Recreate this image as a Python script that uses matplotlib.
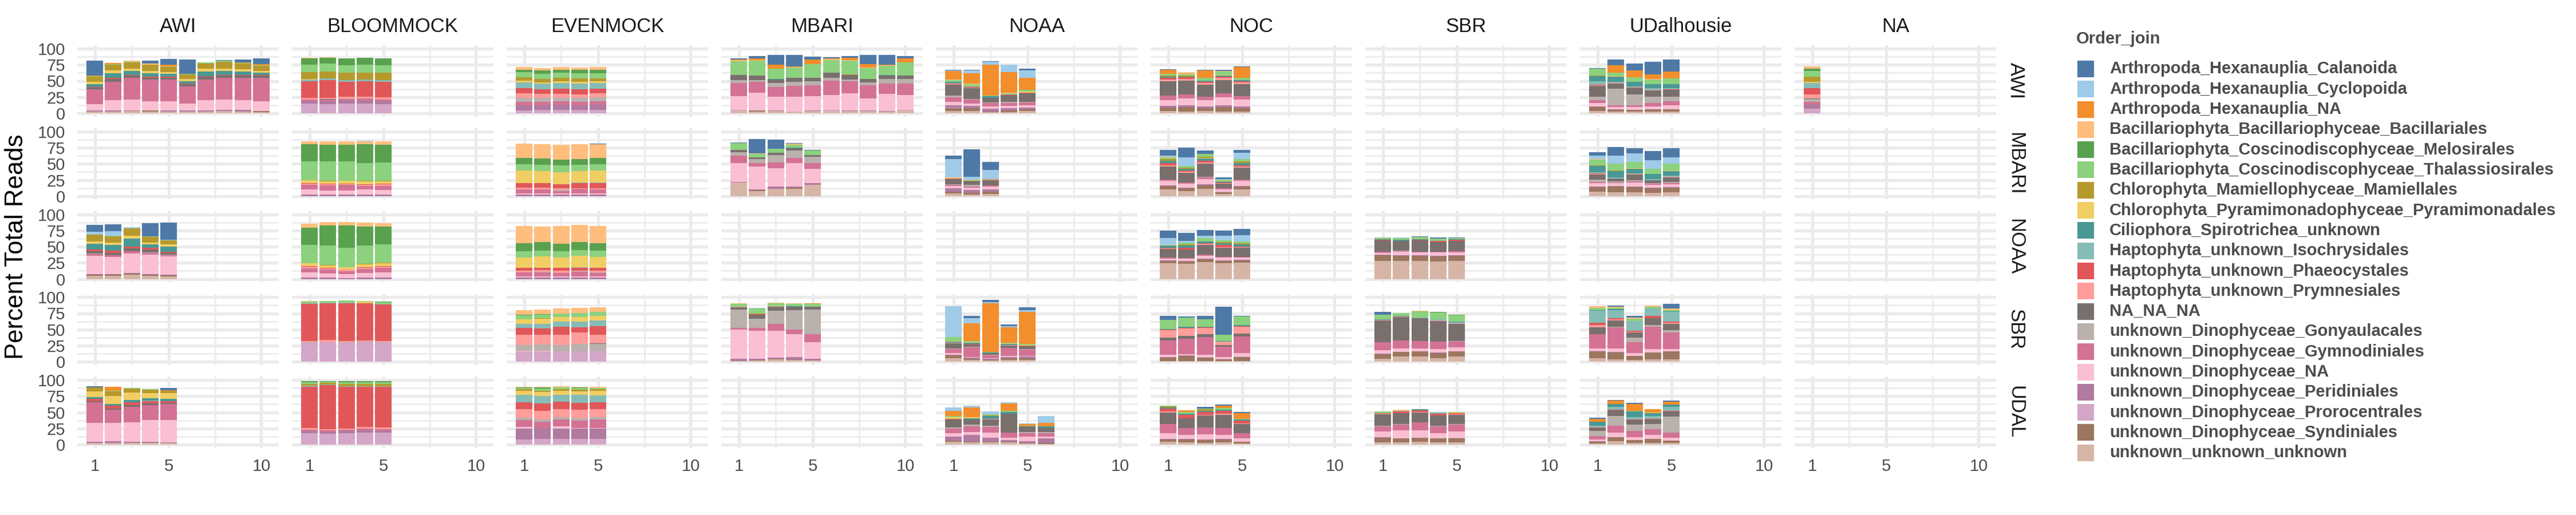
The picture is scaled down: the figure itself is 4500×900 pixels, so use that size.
import numpy as np
import matplotlib
matplotlib.use("Agg")
from matplotlib import pyplot as plt
from matplotlib.patches import Rectangle

plt.rcParams['font.family'] = ['Liberation Sans', 'DejaVu Sans']

# taxa, in legend order (first one sits on top of each stack)
orders = ["Arthropoda_Hexanauplia_Calanoida", "Arthropoda_Hexanauplia_Cyclopoida",
          "Arthropoda_Hexanauplia_NA", "Bacillariophyta_Bacillariophyceae_Bacillariales",
          "Bacillariophyta_Coscinodiscophyceae_Melosirales",
          "Bacillariophyta_Coscinodiscophyceae_Thalassiosirales",
          "Chlorophyta_Mamiellophyceae_Mamiellales",
          "Chlorophyta_Pyramimonadophyceae_Pyramimonadales",
          "Ciliophora_Spirotrichea_unknown", "Haptophyta_unknown_Isochrysidales",
          "Haptophyta_unknown_Phaeocystales", "Haptophyta_unknown_Prymnesiales",
          "NA_NA_NA", "unknown_Dinophyceae_Gonyaulacales", "unknown_Dinophyceae_Gymnodiniales",
          "unknown_Dinophyceae_NA", "unknown_Dinophyceae_Peridiniales",
          "unknown_Dinophyceae_Prorocentrales", "unknown_Dinophyceae_Syndiniales",
          "unknown_unknown_unknown"]
codes = ["Cal", "Cyc", "HNA", "Bac", "Mel", "Tha", "Mam", "Pyr", "Cil", "Iso",
         "Pha", "Pry", "NNN", "Gon", "Gym", "DNA", "Per", "Pro", "Syn", "Unk"]
colors = ["#4E79A7", "#A0CBE8", "#F28E2B", "#FFBE7D", "#59A14F", "#8CD17D", "#B6992D",
          "#F1CE63", "#499894", "#86BCB6", "#E15759", "#FF9D9A", "#79706E", "#BAB0AC",
          "#D37295", "#FABFD2", "#B07AA1", "#D4A6C8", "#9D7660", "#D7B5A6"]

col_labels = ["AWI", "BLOOMMOCK", "EVENMOCK", "MBARI", "NOAA", "NOC", "SBR", "UDalhousie", "NA"]
row_labels = ["AWI", "MBARI", "NOAA", "SBR", "UDAL"]

# each bar: cumulative percent reads, from the bottom of the stack up
awi_awi = [
    dict(Unk=3, Per=4, DNA=14, Gym=37, NNN=40, Pha=41, Cil=45, Pyr=48.5, Mam=57, Tha=57.7, HNA=58.5, Cal=81.5),
    dict(Unk=3, Per=4.4, DNA=20.6, Gym=49, NNN=53.5, Pha=55, Cil=62, Pyr=66.5, Mam=75, Tha=76.5, HNA=78),
    dict(Unk=3.5, Per=4.7, DNA=21.5, Gym=55, NNN=58, Pha=59.4, Cil=65.6, Pyr=69, Mam=78.5, Tha=80, Bac=81, HNA=81.8),
    dict(Unk=3, Syn=4.7, DNA=19, Gym=52.4, NNN=55.3, Pha=56.8, Cil=62, Pyr=65.6, Mam=75.3, Bac=76.8, Cal=81.5),
    dict(Unk=3, Per=4, DNA=19, Gym=52.4, NNN=55.3, Pha=56.5, Cil=61, Pyr=64, Mam=73, Bac=73.8, HNA=75, Cal=84),
    dict(Unk=3, Per=4, DNA=15.3, Gym=41.8, NNN=44.7, Pha=46.2, Cil=50, Pyr=53.2, Mam=60.3, Tha=61.2, Cal=83.2),
    dict(Unk=3, Per=4, DNA=20.6, Gym=52.4, NNN=56.2, Pha=57.6, Cil=64.7, Pyr=68.8, Mam=77.4, Tha=78.5),
    dict(Unk=3.5, Per=5, DNA=21.5, Gym=55, NNN=58.2, Pha=59.4, Cil=65.6, Pyr=69.4, Mam=80, Tha=81, HNA=81.8, Cal=82.4),
    dict(Unk=3, Per=5, DNA=20.6, Gym=55, NNN=58.2, Pha=59, Cil=64.7, Pyr=68.5, Mam=77, Tha=78, HNA=78.6, Cal=83.2),
    dict(Unk=2, Syn=3.8, DNA=18.8, Gym=55, NNN=58.2, Pha=59, Cil=63, Pyr=65.6, Mam=73.8, Tha=74.7, HNA=75.9, Cal=85),
]
awi_bloom = [
    dict(Pro=15, Per=19, Gym=21, NNN=21.5, Pry=24, Pha=50, Iso=52.4, Pyr=53.2, Mam=63.8, Tha=75.3, Mel=85, Bac=85.9),
    dict(Unk=0.5, Pro=14.4, Per=19, Gym=21.5, NNN=22.5, Pry=23.5, Pha=51.5, Iso=53.8, Mam=64.7, Tha=77, Mel=85.9, Bac=86.8),
    dict(Pro=15.3, Per=20, Gym=22.5, Pry=25.3, Pha=49, Iso=51.5, Mam=63, Tha=74.4, Mel=85),
    dict(Pro=15.3, Per=19.7, Gym=23.2, Pry=25.3, Pha=50, Iso=52, Pyr=52.6, Mam=63.2, Tha=75.3, Mel=85.9),
    dict(Pro=14.4, Per=18.2, Gym=21.5, Pry=24.4, Pha=49, Iso=51.5, Mam=63, Tha=74.4, Mel=85),
]
awi_even = [
    dict(Pro=4.7, Per=12.6, Gym=18, Gon=23.8, Pry=30.6, Pha=39, Iso=48, Pyr=50.6, Mam=55.9, Tha=63.8, Mel=67.4, Bac=71.8),
    dict(Pro=5.3, Per=12.6, Gym=18, Gon=23.8, Pry=29.7, Pha=37.6, Iso=45.6, Pyr=48, Mam=53.2, Tha=61.5, Mel=66.5, Bac=70),
    dict(Pro=5.3, Per=13.2, Gym=18.8, Gon=23.8, Pry=30, Pha=38.2, Iso=47, Pyr=49.7, Mam=55, Tha=63, Mel=67, Bac=71.8),
    dict(Pro=5.3, Per=12.6, Gym=18, Gon=23.8, Pry=29, Pha=37.6, Iso=45.6, Pyr=48.8, Mam=54, Tha=62, Mel=67.4, Bac=70.9),
    dict(Pro=5.3, Per=13.5, Gym=18.8, Gon=24.4, NNN=25, Pry=31, Pha=38.2, Iso=47, Pyr=49.7, Mam=54, Tha=62, Mel=67, Bac=71.8),
]
awi_mbari = [
    dict(Unk=4, Pro=5.6, DNA=26.8, Gym=47, Gon=51.5, NNN=59.4, Tha=80.6, Bac=82.4, HNA=83.5, Cal=85),
    dict(Unk=3, Syn=4, Per=4.6, DNA=32, Gym=48.8, Gon=51.5, NNN=58.5, Tha=81, Bac=82.4, HNA=85, Cal=88.5),
    dict(Unk=3.2, Per=4.7, DNA=26, Gym=41, Gon=47, NNN=52.4, Cil=53, Tha=69, HNA=75.3, Cal=90.3),
    dict(Unk=2.4, Per=3, DNA=26, Gym=42.6, Gon=48.8, NNN=55, Tha=71, Bac=72, HNA=72.6, Cal=90.3),
    dict(Unk=3.8, Per=4.7, DNA=26.8, Gym=43.5, Gon=49.7, NNN=55, Tha=76.2, HNA=83.2, Cal=87.6),
    dict(Unk=3.8, Pro=5.6, DNA=28.5, Gym=50.6, Gon=55, NNN=63, Tha=82.4, Bac=84, HNA=85.2, Cal=86.8),
    dict(Unk=3.8, Per=4.7, DNA=31, Gym=49.7, Gon=52.4, NNN=59.7, Mam=60.6, Tha=81.8, Bac=82.4, HNA=85.9, Cal=88.5),
    dict(Unk=3.8, Per=4.7, DNA=23.2, Gym=43.5, Gon=48, NNN=53.2, Tha=70, Bac=70.9, HNA=76.2, Cal=90.3),
    dict(Unk=3, Per=3.3, DNA=30.3, Gym=46, Gon=53.2, NNN=58.5, Cil=59.4, Tha=73.5, Bac=74.7, HNA=75.3, Cal=90.3),
    dict(Unk=4.4, Pro=5, DNA=28.5, Gym=46, Gon=53.2, NNN=58.5, Tha=78.8, HNA=85, Cal=88.5),
]
awi_noaa = [
    dict(Unk=3.8, Syn=7.6, Pro=9.1, Per=12.6, DNA=18, Gym=25, Gon=27.6, NNN=44.4, Pry=45.3, Pha=46.2, Iso=47, Cil=48.8, Tha=51.5, Bac=52.4, HNA=65.6, Cyc=66.5, Cal=67.4),
    dict(Unk=3.8, Syn=8.2, Per=11.8, DNA=15.3, Gym=21.5, Gon=22.4, NNN=39, Pha=40, Pry=40.9, Cil=41.8, Pyr=42.7, Tha=45.3, Bac=46.2, HNA=62, Cyc=66.5, Cal=67.4),
    dict(Unk=1.5, Syn=2.4, Per=6.8, DNA=10.3, Gym=15.6, Gon=17, NNN=24.1, Cil=26.8, Tha=27.6, HNA=75.3, Cyc=79.7, Cal=80.6),
    dict(Unk=2, Syn=4.7, Per=8.2, DNA=11.8, Gym=16.2, Gon=18, NNN=27.6, Pha=28.5, Cil=29.4, Pyr=30, Tha=31.2, Bac=32, HNA=63.8, Cyc=75.3),
    dict(Unk=3.8, Syn=6.5, Per=9.1, DNA=12.6, Gym=17, Gon=17.9, NNN=31, Pha=31.9, Pyr=33.2, Tha=36.5, HNA=55, Cyc=66.5, Cal=69),
]
awi_noc = [
    dict(Unk=3.2, Syn=9.1, Per=11.8, DNA=20.6, Gym=27.6, NNN=49.7, Pry=52.4, Pha=55, Cil=56.8, Mam=58.5, Tha=61.2, HNA=67.4, Cal=68.2),
    dict(Unk=3, Syn=10, Per=12.6, DNA=23.2, Gym=29.4, NNN=50.6, Pry=53.2, Pha=55.9, Cil=56.8, Mam=58.5, Tha=60.3, Bac=62, HNA=63),
    dict(Unk=3.8, Syn=8.2, Per=10.9, DNA=20.6, Gym=25.9, NNN=44.4, Pry=47, Pha=48.8, Cil=50.6, Tha=55, HNA=66.5, Cal=67.4),
    dict(Unk=3, Syn=10, Per=12.6, DNA=25, Gym=31.2, NNN=51.5, Pry=55, Pha=56.8, Cil=58.5, Pyr=59.4, Tha=64.7, Bac=65.6, Cal=67.4),
    dict(Unk=3, Syn=8.2, Per=10.9, DNA=21.5, Gym=26.8, NNN=45.3, Pry=48, Pha=49.7, Cil=51.5, Tha=55, HNA=71.8, Cal=72.6),
]
awi_udal = [
    dict(Unk=3.8, Syn=9.4, Per=10.3, DNA=16.2, Gym=20.6, Gon=25.9, NNN=42.6, Pry=43.5, Pha=44.4, Iso=49.7, Cil=57.6, Tha=68.2, Mam=68.8, HNA=69.4, Cal=70.3),
    dict(Unk=2.4, Syn=5, Per=5.9, DNA=10, Gym=12.6, Gon=38.2, NNN=46.2, Pry=47.1, Iso=48.8, Cil=57, Pyr=57.6, Tha=63, HNA=74.4, Cal=83.2),
    dict(Unk=2.4, Syn=5, DNA=10, Gym=12.6, Gon=29.4, NNN=39, Pha=40, Iso=41.8, Cil=48.8, Tha=55.9, HNA=66.5, Cal=77),
    dict(Unk=2.4, Syn=5.9, DNA=10.9, Gym=16.2, Gon=25.9, NNN=35.6, Pry=36.5, Iso=39, Cil=45.3, Tha=52.4, Bac=53.2, HNA=60.3, Cal=79.7),
    dict(Unk=2.4, Syn=6.5, DNA=12.6, Gym=18.8, Gon=25.9, NNN=36.5, Pha=37.6, Iso=39, Cil=45.3, Tha=54, HNA=64.7, Cal=83.2),
]
awi_na = [
    dict(Pro=7.4, Per=13.5, Gym=18, Gon=22.4, NNN=23.2, Pry=29.4, Pha=39, Iso=47, Pyr=48.8, Mam=56.8, Tha=65.6, Mel=69, Bac=72.6),
]

mbari_bloom = [
    dict(Per=2.7, DNA=10.4, Gym=17.5, Pry=19.2, Pha=20, Pyr=24.6, Tha=53.8, Mel=80.5, Bac=85),
    dict(Per=2.7, DNA=8.6, Gym=16.6, Pry=18.3, Pha=19.2, Mam=20, Pyr=23.7, Tha=53.8, Mel=79.6, Bac=85),
    dict(Per=2.7, DNA=8.6, Gym=15.7, NNN=16.6, Pry=18.3, Pha=19.2, Pyr=23.7, Tha=53.8, Mel=79.6, Bac=85),
    dict(Per=2.7, DNA=10.4, Gym=15.7, Pry=17.5, Pha=18.3, Pyr=22.8, Mam=23.7, Tha=51.2, Mel=80.5, Bac=85, Cyc=85.8),
    dict(Per=2.7, DNA=9.5, Gym=15.7, Pry=18.3, Pha=19.2, Pyr=22.8, Mam=23.7, Tha=52, Mel=79.6, Bac=85),
]
mbari_even = [
    dict(Per=2.7, DNA=4.1, Gym=10.4, Pry=13.3, Pha=20.1, Pyr=39.6, Tha=49.4, Mel=59.2, Bac=81.4),
    dict(Per=2.7, DNA=4.1, Gym=10.4, Pry=13.3, Pha=20.1, Pyr=38.8, Tha=48.5, Mel=58.3, Bac=80.5),
    dict(Per=2.7, DNA=4.1, Gym=7.7, Gon=9.5, Pry=12.1, Pha=18.3, Pyr=37, Tha=47.6, Mel=56.5, Bac=79.6),
    dict(Per=2.7, DNA=4.1, Gym=11.2, Pry=12.1, Pha=20.1, Iso=21, Pyr=38.8, Tha=48.5, Mel=57.4, Bac=80.5),
    dict(Per=2.7, DNA=4.1, Gym=10.4, Pry=12.1, Pha=20.1, Iso=21, Pyr=39.6, Tha=49.4, Mel=59.2, Bac=80.5, Cal=81.4),
]
mbari_mbari = [
    dict(Unk=21, Per=21.9, DNA=51.2, Gym=62.7, Gon=68, NNN=71.6, Tha=82.2, Cal=83.1),
    dict(Unk=8, Syn=9.5, Per=10.4, DNA=45.9, Gym=51.2, Gon=57.4, NNN=60, Tha=65.4, Bac=66.3, Cal=88.5),
    dict(Unk=11.5, Per=14.8, DNA=43.2, Gym=52, Gon=63.6, NNN=67.2, Tha=73.4, Cal=87.6),
    dict(Unk=11.5, Syn=13, Per=14.8, DNA=51.2, Gym=59.2, Gon=70.7, NNN=74.3, Cil=74.9, Tha=79.6, Bac=80.8, Cal=81.7),
    dict(Unk=17.8, Per=20.1, DNA=42.3, Gym=51.2, Gon=61, NNN=63.6, Tha=70.7, Cal=71.6),
]
mbari_noaa = [
    dict(Unk=4.1, Syn=6.8, Per=12.1, DNA=15.7, Gym=17.5, NNN=25.4, Gon=26.3, Pha=27.2, Pyr=28.4, Bac=29, Cyc=57.4, Cal=62.7),
    dict(Unk=2.7, Syn=5, Per=9.5, DNA=13, Gym=14.8, NNN=21, Gon=23.7, Tha=24.6, Pyr=25.5, Cyc=30, Cal=72.5),
    dict(Unk=3.2, Syn=6.8, Per=10.4, DNA=14.8, Gym=16.6, NNN=24.6, Pry=25.5, Mam=26.7, Cyc=40.5, Cal=53),
]
mbari_noc = [
    dict(Unk=10.4, Syn=15.7, Per=16.6, DNA=23.7, Gym=25.4, NNN=45.9, Pry=47.6, Pha=51.2, Cil=54.7, Mam=57.4, Tha=60, Bac=61, Cyc=62.7, Cal=71.6),
    dict(Unk=7.7, Syn=12.1, Per=13, DNA=19.2, Gym=21, NNN=36.1, Pry=37.9, Pha=39.6, Cil=42.3, Mam=44.1, Tha=46.7, Cyc=60, Cal=75.1),
    dict(Unk=11.2, Syn=16.6, Per=18.3, DNA=26.3, Gym=29, Gon=29.9, NNN=50.3, Pry=52, Pha=54.7, Cil=58.3, Pyr=59.2, Mam=61, Tha=65.4, Cal=70.7),
    dict(Unk=3.5, Syn=6.2, Pro=7.1, DNA=10.4, Gym=12.1, NNN=19.2, Pry=20.1, Pha=21, Cil=22.8, Pyr=23.7, Tha=25.4, Cyc=26.3, Cal=29),
    dict(Unk=10.4, Syn=14.8, Per=15.7, DNA=23.7, Gym=25.4, NNN=44.1, Pry=45.9, Pha=47.6, Cil=51.2, Mam=53.8, Tha=57.4, Cyc=67.2, Cal=71.6),
]
mbari_udal = [
    dict(Unk=6.8, Syn=14.2, Per=14.8, DNA=20.1, Gym=21.9, Gon=25.4, NNN=33.4, Pry=34.3, Pha=35.2, Iso=37, Cil=46.7, Mam=47.6, Tha=56.5, Bac=57.4, Cyc=62.7, Cal=68),
    dict(Unk=5.9, Syn=14.8, Per=15.7, DNA=20.1, Gym=21, Gon=22.8, NNN=27.2, Iso=29, Cil=38.8, Mam=39.6, Tha=50.3, Cyc=62.7, Cal=76),
    dict(Unk=5.9, Syn=13.9, Per=14.8, DNA=21, Gym=22.8, Gon=24.6, NNN=33.4, Pry=34.3, Iso=35.2, Cil=42.3, Tha=52, Pyr=52.9, Cyc=66.3, Cal=74.3),
    dict(Unk=5, Syn=12.1, Per=13, DNA=17.5, Gym=19.2, Gon=20.1, NNN=24.6, Iso=26.3, Cil=34.3, Tha=42.3, Cyc=55.6, Cal=69.8),
    dict(Unk=5.9, Syn=13, Per=13.9, DNA=18.3, Gym=20.1, Gon=21.9, NNN=29, Pry=29.9, Iso=31.7, Cil=38.8, Tha=49.4, Pyr=50, Cyc=60, Cal=74.3),
]

noaa_awi = [
    dict(Unk=5, Syn=6.8, Per=7.7, DNA=36, Gym=38.8, Gon=39.7, NNN=43.2, Pha=45.9, Cil=54.4, Pyr=58, Mam=68.3, Cyc=72.8, Cal=83.4),
    dict(Unk=5, Syn=6.8, Per=7.7, DNA=34.3, Gym=37, NNN=40.5, Pha=44, Cil=52.4, Pyr=55.9, Mam=65.7, Tha=66.6, Cyc=73.7, Cal=84.3),
    dict(Unk=6.8, Syn=8.6, Per=9.5, DNA=39.6, Gym=43.2, NNN=47.6, Pha=50.3, Cil=62, Pyr=66.6, Mam=78, Cyc=80),
    dict(Unk=5, Syn=6.8, Per=7.7, DNA=37.9, Gym=40.5, Gon=41.4, NNN=45.9, Pha=48.5, Cil=53.3, Pyr=55.9, Mam=64.8, Tha=65.7, Cal=86.1),
    dict(Unk=4.1, Syn=5.9, Per=6.8, DNA=35.2, Gym=37, Gon=37.9, NNN=40.5, Pha=42.3, Cil=49.7, Pyr=53.3, Mam=59.5, Cyc=60.4, Cal=87),
]
noaa_bloom = [
    dict(Per=2.4, DNA=10.4, Gym=16.6, Pry=19.2, Pha=20.1, Pyr=24.6, Tha=52.4, Mel=79, Bac=85.2),
    dict(Per=2.4, DNA=8.6, Gym=14.8, Pry=16.6, Pha=17.5, Pyr=21, Mam=21.9, Tha=51.5, Mel=82.5, Bac=87.9),
    dict(Per=1.5, DNA=7.7, Gym=12.1, Pry=14.8, Pyr=18.3, Tha=48, Mel=82.5, Bac=87.9),
    dict(Per=2.4, DNA=9.5, Gym=15.7, Pry=17.5, Pha=18.3, Pyr=22.8, Mam=23.7, Tha=51.5, Mel=80.8, Bac=87),
    dict(Per=2.4, DNA=10.4, Gym=17.5, Pry=19.2, Pha=20.1, Pyr=24.6, Mam=25.5, Tha=53.3, Mel=80.8, Bac=86),
]
noaa_even = [
    dict(Per=2.4, DNA=4.1, Gym=10.4, Pry=13, Pha=17.5, Pyr=33.4, Tha=43.2, Mel=55, Bac=81.7),
    dict(Per=2.4, DNA=4.1, Gym=10.4, Gon=11.3, Pry=13.9, Pha=17.5, Pyr=35.2, Tha=44.1, Mel=56.8, Bac=80.8),
    dict(Per=2.4, DNA=4.1, Gym=9.5, Pry=13, Pha=17.5, Pyr=33.4, Tha=43.2, Mel=54.1, Bac=81.7),
    dict(Per=2.4, DNA=4.1, Gym=11.2, Gon=12.1, Pry=13, Pha=17.5, Iso=18.4, Pyr=36.1, Tha=45, Mel=56.8, Bac=83.4),
    dict(Per=2.4, DNA=4.1, Gym=9.5, Gon=10.4, Pry=13, Pha=17.5, Pyr=34.3, Tha=44.1, Mel=55, Bac=81.7),
]
noaa_noc = [
    dict(Unk=24.6, Syn=28.1, Per=29, DNA=31.7, Gym=33.4, NNN=46.2, Pry=47.3, Pha=48.5, Cil=51.5, Pyr=52.4, Cyc=63.3, Cal=74.6),
    dict(Unk=23.7, Syn=27.2, Per=28.1, DNA=31.7, Gym=32.6, NNN=45.9, Pha=48.5, Cil=52, Mam=53.8, Tha=55.9, Cyc=58.6, Cal=71),
    dict(Unk=26.3, Syn=30.8, Per=31.7, DNA=36.1, Gym=37.9, NNN=53, Pry=54, Pha=55, Cil=58, Tha=63.3, Cyc=66.9, Cal=75.4),
    dict(Unk=24.6, Syn=28.1, Per=29, DNA=33.4, Gym=34.3, NNN=48.5, Pry=49.5, Pha=52.4, Cil=55, Mam=56.8, Tha=59.5, Cyc=66.9, Cal=74.6),
    dict(Unk=25.4, Syn=29, Per=29.9, DNA=33.4, Gym=34.3, NNN=48.5, Pry=49.4, Pha=50.3, Cil=53.3, Mam=55, Tha=57.7, Cyc=67.5, Cal=77.2),
]
noaa_sbr = [
    dict(Unk=28, Syn=37, Per=37.5, DNA=40.5, Gym=41.8, NNN=59.3, Pry=59.8, Pha=60.8, Cil=61.3, Mam=61.8, Tha=64.3),
    dict(Unk=28.1, Syn=36.1, Per=37, DNA=42.3, Gym=43.2, Gon=44.1, NNN=58.9, Cil=60.5, Tha=63.3, Cyc=64.5),
    dict(Unk=28.1, Syn=36.1, Per=37, DNA=41.4, Gym=42.3, NNN=59.8, Pha=61, Cil=61.9, Tha=64.8, Cal=66.3),
    dict(Unk=27.2, Syn=35.2, Per=36.1, DNA=41.4, Gym=42.3, NNN=57.4, Pha=58.6, HNA=59.2, Tha=62.7, Cal=63.9),
    dict(Unk=28.1, Syn=36.1, Per=37, DNA=41.4, Gym=43.2, NNN=58.9, Pha=60.4, Cil=61.3, Tha=63.3, Cal=64.5),
]

sbr_bloom = [
    dict(Pro=29.4, Gon=30.3, Pry=32, Pha=89.9, Iso=90.8, Tha=93.5, Bac=94.4),
    dict(Pro=30.3, Pry=33.8, Pha=90.8, Iso=91.7, Tha=94),
    dict(Pro=29.4, Gon=30.3, Pry=32, Pha=90.8, Iso=91.7, Tha=95, Bac=95.3),
    dict(Pro=30.3, Gon=31.2, Pry=33, Pha=90.8, Pyr=92.3, Tha=93.5, Bac=94.4),
    dict(Pro=29.4, Gon=30.3, Pry=32, Pha=89, Iso=89.9, Tha=92.3, Mel=93.2),
]
sbr_even = [
    dict(Pro=16, DNA=16.9, Gon=25.8, Pry=41.8, Pha=52.5, Iso=58.8, Pyr=65.9, Tha=72.1, Mel=73, Bac=80.1),
    dict(Pro=16, DNA=16.9, Gon=26.7, Pry=41.8, Pha=51.6, Iso=58.8, Pyr=66.8, Mam=67.4, Tha=73, Mel=73.6, Bac=81),
    dict(Pro=16, Gon=25.8, Pry=41.8, Pha=54.3, Iso=62.3, Pyr=69.4, Tha=74.8, Bac=82.8),
    dict(Pro=16, Gon=27.6, Pry=45.4, Pha=53.4, Iso=62.3, Pyr=69.4, Tha=75.7, Bac=83.7),
    dict(Pro=16, Gon=27.6, NNN=28.2, Pry=41.8, Pha=55.2, Iso=64.1, Pyr=71.2, Tha=77.4, Bac=84.6),
]
sbr_mbari = [
    dict(Unk=1.5, Per=4.5, DNA=49.9, Gym=52.5, Gon=81, NNN=84, Pry=84.9, Tha=89.6, Bac=90.8),
    dict(Unk=1.8, Syn=2.7, Per=5, DNA=48, Gym=52.2, Gon=66.8, NNN=73, Pha=73.9, Tha=81.9, Mam=82.8, Cyc=83.4, Cal=83.7),
    dict(Unk=3.6, Syn=4.5, Per=6.2, DNA=48, Gym=58.8, Gon=79.2, NNN=85.5, Pry=86.1, Tha=90.5, Bac=91.4),
    dict(Unk=2.7, Syn=3.6, Per=7.1, DNA=42.7, Gym=49.9, Gon=80.1, NNN=85.5, Cil=86.4, Tha=89.9, Bac=90.8),
    dict(Unk=1.8, Per=4.5, DNA=30.3, Gym=42.7, Gon=81, NNN=85.5, Tha=89.9, HNA=90.8),
]
sbr_noaa = [
    dict(Unk=5.3, Syn=9.8, Per=11, DNA=13.4, Gym=19.6, Gon=20.5, NNN=28.5, Pry=29.4, Cil=31.2, Tha=37.4, Pyr=38.3, Cyc=86),
    dict(Unk=2.7, Syn=4.5, Per=6.2, DNA=7.1, Gym=22.3, Gon=23.2, NNN=26.7, Pha=27.6, Cil=29.4, Tha=31.2, Pyr=32, HNA=59.6, Cyc=67.7, Cal=71.2),
    dict(Unk=1.8, Syn=3.3, Per=4.5, DNA=5.4, Gym=9.8, Gon=11, NNN=13.4, Cil=14.3, Tha=15.1, HNA=90.8, Cyc=92.3, Cal=95.8),
    dict(Unk=2.7, Syn=5.3, Per=7.1, DNA=8.9, Gym=21.4, Pry=22.3, NNN=25.8, Cil=27.6, Tha=29.1, Pyr=29.6, HNA=53.4, Cyc=55.2, Cal=57.9),
    dict(Unk=3.3, Syn=5.3, Per=8, DNA=8.9, Gym=18.7, Gon=19.6, NNN=24, Pha=24.9, Tha=26.7, Pyr=27.6, HNA=77.2, Cyc=80.1, Cal=84.3),
]
sbr_noc = [
    dict(Unk=0.9, Syn=6.2, Per=7.1, DNA=10.7, Gym=32.9, NNN=37.4, Pry=49, Pha=49.9, Cil=50.8, Tha=65, Cal=71.2),
    dict(Unk=0.9, Syn=8.9, Per=9.8, DNA=11.6, Gym=35.6, NNN=40.1, Pry=51.6, Pha=52.5, Cil=54.3, Tha=68.5, Cal=70.3),
    dict(Unk=0.9, Syn=6.2, Pro=7.1, DNA=10.7, Gym=38.3, NNN=42.7, Pry=52.5, Pha=53.4, Cil=54.3, Tha=65.9, Cal=70.9),
    dict(Unk=0.9, Syn=3.6, Pro=4.5, DNA=7.1, Gym=23.1, NNN=25.8, Pry=31.2, Cil=32.1, Tha=41.8, Cal=85.2),
    dict(Unk=0.9, Syn=7.1, Pro=8, DNA=13.4, Gym=39.2, NNN=43.6, Pry=54.3, Pha=55.2, Cil=57, Tha=70.3, Cal=71.2),
]
sbr_sbr = [
    dict(Unk=4.5, Syn=11.6, Per=12.5, DNA=17.8, Gym=30.3, NNN=64.1, Pry=65, Cil=65.9, Tha=73, Cal=77.2),
    dict(Unk=8, Syn=15.1, DNA=20.5, Gym=32.9, NNN=69.4, Pry=70.3, Cil=71.2, Tha=75.7),
    dict(Unk=8, Syn=16, DNA=20.5, Gym=32, NNN=67.7, Iso=68.6, Tha=78.3, Bac=79.2),
    dict(Unk=5.3, Syn=13.4, Per=14.3, DNA=19.6, Gym=31.2, NNN=63.2, Pry=64.1, Iso=65.9, Tha=76.6, Mel=77.4),
    dict(Unk=8, Syn=16, DNA=22.3, Gym=31.2, Gon=32.1, NNN=58.8, Pry=59.7, Iso=61.4, Cil=62.3, Tha=72.1, Mel=73),
]
sbr_udal = [
    dict(Unk=5.3, Syn=16, Pro=16.9, DNA=20.8, Gym=42.4, NNN=53.1, Pry=56.7, Pha=60.2, Iso=79.2, Cil=80.1, Tha=83.4, Bac=86),
    dict(Unk=3.6, Syn=14.2, Per=15.1, DNA=20.5, Gym=53.4, Gon=54.3, NNN=64.1, Pry=65.9, Pha=67.7, Iso=80.1, Cil=81.6, Tha=83.7, Bac=85.5, Cal=86.9),
    dict(Unk=2.7, Syn=8.9, DNA=13.4, Gym=30.3, Gon=37.4, NNN=45.4, Pry=46.3, Pha=48, Iso=63.2, Tha=66.8, Bac=68.5, Cal=70.9),
    dict(Unk=3.6, Syn=14.2, DNA=19.9, Gym=54, Gon=56.7, NNN=67.4, Pha=70.9, Iso=82.5, Tha=85.2, Bac=86.9),
    dict(Unk=3.6, Syn=16, DNA=19.9, Gym=45.1, Gon=48.7, NNN=58.8, Pry=60.6, Pha=62.3, Iso=77.4, Cil=78.3, Tha=80.1, Bac=82.5, Cal=89.6),
]

udal_awi = [
    dict(Unk=2.4, Per=4.2, DNA=33.5, Gym=65.6, NNN=67.4, Pha=70.9, Cil=73.6, Pyr=82.5, Mam=88.7, Cal=90.5),
    dict(Unk=2.4, Per=5, DNA=33.5, Gym=54, NNN=55.8, Pha=60.2, Cil=62.9, Pyr=75.4, Mam=82.5, Tha=83.4, HNA=89.6),
    dict(Unk=2.4, Per=4.2, DNA=34.4, Gym=58.5, NNN=61.1, Pha=65.6, Cil=69.1, Pyr=80.7, Mam=86.9, Tha=87.8),
    dict(Unk=2.4, Per=4.2, DNA=38, Gym=61.1, NNN=63.8, Pha=67.4, Cil=70.9, Iso=71.8, Pyr=79.8, Mam=85.2, Tha=86),
    dict(Unk=2.4, Per=3.3, DNA=38, Gym=62.9, NNN=64.7, Pha=67.4, Cil=70.9, Pyr=79.8, Mam=83.4, HNA=84.3, Cal=87.8),
]
udal_bloom = [
    dict(Pro=17.5, Per=21, Gym=22.8, Pry=25.5, Pha=89.6, Iso=91.4, Mam=94.1, Tha=96.7, Mel=98.5),
    dict(Pro=16.6, Per=19.3, Gym=22, Pry=23.7, Pha=92.3, Iso=93.2, Mam=95.8, Tha=97.6, Mel=98.5),
    dict(Pro=17.5, Per=21, Gym=22.8, Pry=24.6, Pha=89.6, Iso=90.5, Mam=94.1, Tha=96.7, Mel=98.5),
    dict(Pro=18.4, Per=22, Gym=24.6, Pry=27.3, Pha=89.6, Iso=90.5, Mam=94.1, Tha=96.7, Mel=98.5),
    dict(Pro=18.4, Per=21, Gym=23.7, Pry=26.4, Pha=89.6, Iso=90.5, Mam=94.1, Tha=96.7, Mel=98.5),
]
udal_even = [
    dict(Pro=7.7, Per=24.6, DNA=27.3, Gym=38, Gon=41.5, Pry=54.9, Pha=65.6, Iso=77.2, Pyr=83.4, Mam=86, Tha=87.8, Mel=88.7, Bac=89.6),
    dict(Pro=8.6, Per=25.5, Gym=35.3, Gon=38.9, Pry=52.2, Pha=63.8, Iso=75.4, Pyr=81.6, Mam=83.4, Tha=87, Mel=88.7, Bac=89.6),
    dict(Pro=8.6, Per=24.6, DNA=28.2, Gym=38.9, Gon=42.4, Pry=54.9, Pha=66.5, Iso=77.2, Pyr=83.4, Mam=86, Tha=88.7, Bac=90.5),
    dict(Pro=8.6, Per=24.6, DNA=25.5, Gym=37.1, Gon=40.7, Pry=54, Pha=64.7, Iso=77.2, Pyr=82.5, Mam=85.2, Tha=87.8, Mel=88.7, Bac=89.6),
    dict(Pro=8.6, Per=24.6, DNA=25.5, Gym=38.9, Gon=42.4, Pry=54.9, Pha=65.6, Iso=76.3, Pyr=83.4, Mam=86, Tha=87.8, Bac=89.6),
]
udal_noaa = [
    dict(Unk=4.5, Syn=6.2, Per=12.5, DNA=17.8, Gym=24.9, Gon=26.7, NNN=39.2, Pha=40.1, Pyr=42.2, Tha=44.5, HNA=52.5, Cyc=57.6),
    dict(Unk=3.6, Syn=4.5, Per=15.1, DNA=19.6, Gym=28.2, Gon=30.9, NNN=39.2, Cil=41, Pyr=42.7, HNA=57.6, Cyc=60.2),
    dict(Unk=3.6, Syn=4.5, Per=10.7, DNA=18.7, Gym=27.6, Gon=29.4, NNN=39.2, Pry=40.1, Cil=44.5, Tha=46.3, Mam=47.2, Cyc=51.6),
    dict(Unk=3.6, Syn=4.5, Per=6.8, DNA=10.7, Gym=18.4, NNN=48.1, Cil=50.2, Tha=52.2, HNA=63.8, Cyc=65.6),
    dict(Unk=1.8, Syn=2.4, Per=5.3, DNA=12.5, Gym=17.8, Gon=19.6, NNN=27.9, Tha=29.1, HNA=32, Cyc=32.9),
    dict(Unk=1.2, Syn=2.4, Per=9.8, DNA=12.5, Gym=17.8, Gon=19.6, NNN=25.8, Cil=27.9, HNA=33.2, Cyc=44.5),
]
udal_noc = [
    dict(Unk=4.5, Syn=8, Per=8.9, DNA=17.5, Gym=32, NNN=49.9, Pry=51.7, Pha=56.1, Cil=57.9, Mam=59.1, Tha=60, HNA=60.5),
    dict(Unk=3.6, Syn=8, Per=8.9, DNA=15.1, Gym=25.8, NNN=40.9, Pha=46.3, Cil=48.1, Tha=50.7, HNA=53.4),
    dict(Unk=2.7, Syn=6.8, Per=7.7, DNA=15.7, Gym=26.7, NNN=45.4, Pry=46.3, Pha=50.7, Cil=52.5, Mam=54.6, Tha=55.5, Cal=58.5),
    dict(Unk=3.6, Syn=8, Per=8.9, DNA=15.1, Gym=25.8, NNN=46.3, Pry=48.1, Pha=52.5, Cil=54.3, Tha=57, HNA=60.5, Cal=61.7),
    dict(Unk=1.8, Syn=4.5, DNA=9.8, Gym=17.8, NNN=32, Pry=32.9, Pha=37.4, Cil=39.2, Tha=40.1, HNA=49, Cal=50.7),
]
udal_sbr = [
    dict(Unk=3.6, Syn=10.7, Per=11.6, DNA=20.2, Gym=28.5, Gon=29.4, NNN=47.2, Pry=48.1, Pha=49, Tha=51.6),
    dict(Unk=3.6, Syn=9.8, DNA=22.3, Gym=31.2, Gon=32.1, NNN=49, Pha=51.3, Iso=52.2, Bac=54),
    dict(Unk=4.5, Syn=10.7, DNA=22.3, Gym=34.7, NNN=49.9, Pry=50.8, Pha=53.4, Cil=54.6),
    dict(Unk=3.6, Syn=9.8, DNA=17.8, Gym=28.5, Gon=29.4, NNN=45.4, Pha=47.5, Cil=49, Iso=49.9),
    dict(Unk=3.6, Syn=9.8, Pro=10.7, DNA=20.2, Gym=31.2, Gon=32.1, NNN=46.3, Pry=47.2, Pha=49, Pyr=49.9, Tha=50.7),
]
udal_udal = [
    dict(Unk=1.8, Syn=4.5, Per=5.4, DNA=8, Gym=13.4, Gon=21.4, NNN=25.5, Pha=26.4, Iso=29.4, Cil=35.6, HNA=40.1, Cal=41.8),
    dict(Unk=5.3, Syn=11.6, DNA=18.7, Gym=29.4, Gon=44.5, NNN=52.8, Pha=53.7, Iso=58.8, Cil=63.2, HNA=68.5, Cal=69.4),
    dict(Unk=2.7, Syn=7.1, DNA=11.6, Gym=21.4, Gon=31.2, NNN=38.3, Pha=39.2, Iso=42.7, Cil=51.6, Tha=52.5, HNA=63.2, Cal=65),
    dict(Unk=2.7, Syn=8.9, DNA=15.1, Gym=24, Gon=32, NNN=39.2, Pha=40.1, Iso=43.9, Cil=49, Pyr=49.9, HNA=55.2),
    dict(Unk=2.7, Syn=6.2, DNA=10.7, Gym=18.7, Gon=43.6, NNN=51, Pha=51.9, Iso=58.8, Cil=62.3, HNA=66.8, Cal=68.5),
]

panels = {
    ("AWI", "AWI"): awi_awi, ("AWI", "BLOOMMOCK"): awi_bloom, ("AWI", "EVENMOCK"): awi_even,
    ("AWI", "MBARI"): awi_mbari, ("AWI", "NOAA"): awi_noaa, ("AWI", "NOC"): awi_noc,
    ("AWI", "UDalhousie"): awi_udal, ("AWI", "NA"): awi_na,
    ("MBARI", "BLOOMMOCK"): mbari_bloom, ("MBARI", "EVENMOCK"): mbari_even,
    ("MBARI", "MBARI"): mbari_mbari, ("MBARI", "NOAA"): mbari_noaa,
    ("MBARI", "NOC"): mbari_noc, ("MBARI", "UDalhousie"): mbari_udal,
    ("NOAA", "AWI"): noaa_awi, ("NOAA", "BLOOMMOCK"): noaa_bloom, ("NOAA", "EVENMOCK"): noaa_even,
    ("NOAA", "NOC"): noaa_noc, ("NOAA", "SBR"): noaa_sbr,
    ("SBR", "BLOOMMOCK"): sbr_bloom, ("SBR", "EVENMOCK"): sbr_even, ("SBR", "MBARI"): sbr_mbari,
    ("SBR", "NOAA"): sbr_noaa, ("SBR", "NOC"): sbr_noc, ("SBR", "SBR"): sbr_sbr,
    ("SBR", "UDalhousie"): sbr_udal,
    ("UDAL", "AWI"): udal_awi, ("UDAL", "BLOOMMOCK"): udal_bloom, ("UDAL", "EVENMOCK"): udal_even,
    ("UDAL", "NOAA"): udal_noaa, ("UDAL", "NOC"): udal_noc, ("UDAL", "SBR"): udal_sbr,
    ("UDAL", "UDalhousie"): udal_udal,
}


# turn cumulative tops into one row of segment heights per bar
def seg_matrix(bars):
    m = np.zeros((len(bars), len(codes)))
    for i, bar in enumerate(bars):
        prev = 0
        for k, top in bar.items():
            m[i, codes.index(k)] += top - prev
            prev = top
    return m


W, H = 4500, 900
fig = plt.figure(figsize=(15, 3), dpi=300)
grid_col = "#EBEBEB"
text_col = "#4D4D4D"

for r, rlab in enumerate(row_labels):
    y0 = 198 + 144.75 * r          # pixel row of value 0
    top = y0 - 105 * 1.13
    bot = y0 + 5 * 1.13
    for c, clab in enumerate(col_labels):
        left = 135 + 375 * c
        ax = fig.add_axes([left / W, 1 - bot / H, 352 / W, (bot - top) / H])
        ax.set_xlim(0.055, 10.945)
        ax.set_ylim(-5, 105)
        ax.set_xticks([1, 5, 10])
        ax.set_xticks([3, 7.5], minor=True)
        ax.set_yticks([0, 25, 50, 75, 100])
        ax.set_yticks([12.5, 37.5, 62.5, 87.5], minor=True)
        ax.grid(which="major", color=grid_col, lw=1.25)
        ax.grid(which="minor", color=grid_col, lw=0.6)
        ax.set_axisbelow(True)
        for s in ax.spines.values():
            s.set_visible(False)
        ax.tick_params(which="both", length=0, labelsize=7, labelcolor=text_col)
        ax.tick_params(axis="y", pad=5)
        ax.tick_params(axis="x", pad=4.5)
        if c != 0:
            ax.set_yticklabels([])
        if r != len(row_labels) - 1:
            ax.set_xticklabels([])

        bars = panels.get((rlab, clab))
        if bars:
            m = seg_matrix(bars)
            xs = np.arange(1, len(bars) + 1)
            base = np.zeros(len(bars))
            for k in range(len(codes) - 1, -1, -1):
                ax.bar(xs, m[:, k], 0.9, bottom=base, color=colors[k], linewidth=0)
                base += m[:, k]

        if r == 0:
            fig.text((left + 176) / W, 1 - 47 / H, clab, ha="center", va="center",
                     fontsize=8.3, color="#1A1A1A")
    fig.text(3521 / W, 1 - (y0 - 56.5) / H, rlab, ha="center", va="center",
             rotation=-90, fontsize=8.3, color="#1A1A1A")

fig.text(29 / W, 1 - 431 / H, "Percent Total Reads", rotation=90, ha="center",
         va="center", fontsize=10.5, color="black")

# legend
fig.text(3627 / W, 1 - 68 / H, "Order_join", ha="left", va="center",
         fontsize=7, fontweight="bold", color=text_col)
for i, name in enumerate(orders):
    yc = 120.5 + 35.3 * i
    fig.patches.append(Rectangle((3629 / W, 1 - (yc + 14.5) / H), 29 / W, 29 / H,
                                 transform=fig.transFigure, color=colors[i], lw=0))
    fig.text(3685 / W, 1 - yc / H, name, ha="left", va="center",
             fontsize=7, fontweight="bold", color=text_col)

fig.savefig("out.png", dpi=300, facecolor="white")
